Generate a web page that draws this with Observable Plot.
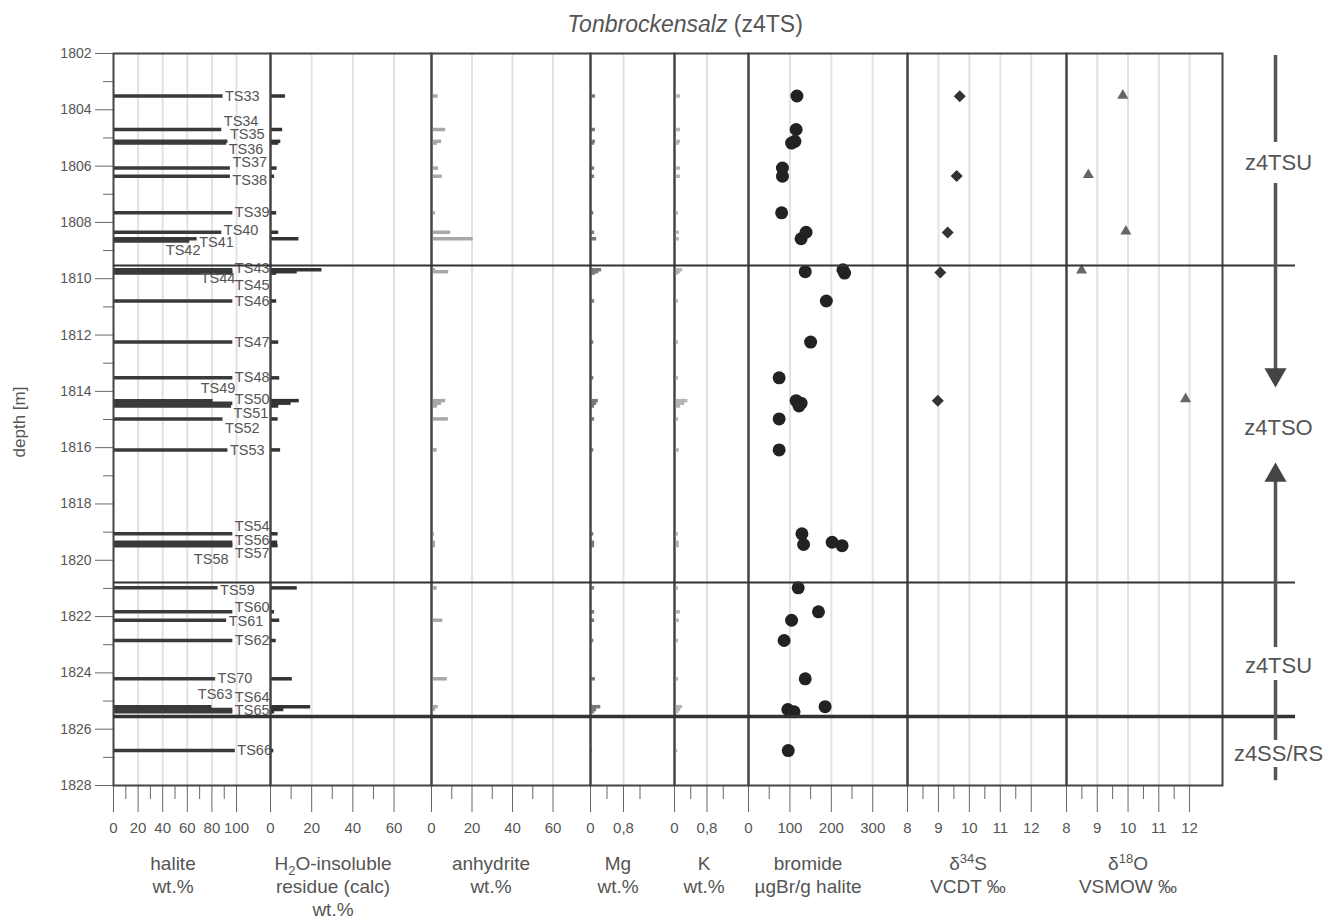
<!DOCTYPE html>
<html>
<head>
<meta charset="utf-8">
<script src="https://cdn.jsdelivr.net/npm/d3@7"></script>
<script src="https://cdn.jsdelivr.net/npm/@observablehq/plot@0.6"></script>
<style>
  body { margin: 0; background: #fff; }
  #wrap { position: relative; width: 1328px; height: 923px; overflow: hidden;
          font-family: "Liberation Sans", Arial, Helvetica, sans-serif; color: #555; }
  #wrap svg { position: absolute; left: 0; top: 0; overflow: visible; }
  .lab { position: absolute; top: 852px; transform: translateX(-50%); text-align: center;
         white-space: nowrap; font-size: 19px; line-height: 23px; color: #555; }
  .lab sub, .lab sup { font-size: 13px; line-height: 0; }
  #title { position: absolute; top: 11px; left: 685px; transform: translateX(-50%);
           font-size: 23px; color: #555; white-space: nowrap; }
  #ylab { position: absolute; left: 20px; top: 422px; transform: translate(-50%, -50%) rotate(-90deg);
          font-size: 17px; color: #555; white-space: nowrap; }
</style>
</head>
<body>
<div id="wrap">
  <div id="title"><i>Tonbrockensalz</i> (z4TS)</div>
  <div id="ylab">depth [m]</div>
</div>
<script>
// ---------- data ----------
const labels    = ["TS33","TS34","TS35","TS36","TS37","TS38","TS39","TS40","TS41","TS42","TS43","TS44","TS45","TS46","TS47","TS48","TS49","TS50","TS51","TS52","TS53","TS54","TS56","TS57","TS58","TS59","TS60","TS61","TS62","TS70","TS63","TS64","TS65","TS66"];
const depth     = [1803.51,1804.70,1805.12,1805.18,1806.07,1806.36,1807.66,1808.35,1808.58,1808.66,1809.68,1809.75,1809.80,1810.79,1812.25,1813.52,1814.33,1814.42,1814.52,1814.98,1816.08,1819.06,1819.36,1819.48,1819.44,1820.98,1821.83,1822.13,1822.85,1824.21,1825.20,1825.30,1825.38,1826.76];
const halite    = [89,88,93,92,95,95,97,88,68,62,97,97,97,97,97,97,81,97,96,89,93,97,97,97,97,85,97,92,97,83,80,97,97,99];
const residue   = [7.3,5.9,5,4,3.2,2,3,4,13.8,null,25,13,3,3,4,4.5,14,10,4,3.7,4.9,3.7,3.5,3.7,2.5,13,2,4.5,2.8,10.6,19.5,6.5,2,1.6];
const anhydrite = [3.3,7,5,3,3.5,5.3,2,9.5,20.6,null,2,8.5,1,1,1,1,7,5,3,8.3,2.8,1.5,2,2,1,2.8,1,5.6,0.5,7.8,3.3,2,1,0.5];
const mg        = [0.12,0.12,0.12,0.1,0.1,0.1,0.08,0.1,0.15,null,0.27,0.2,0.12,0.1,0.08,0.08,0.19,0.15,0.1,0.1,0.08,0.08,0.1,0.1,0.08,0.1,0.1,0.1,0.08,0.12,0.25,0.15,0.1,0.05];
const kval      = [0.15,0.15,0.15,0.12,0.15,0.15,0.1,0.12,0.12,null,0.2,0.15,0.1,0.1,0.1,0.1,0.33,0.25,0.15,0.1,0.12,0.1,0.12,0.12,0.1,0.1,0.15,0.12,0.1,0.1,0.2,0.15,0.1,0.08];
const bromide   = [117,115,112,104,82,82,80,139,127,null,228,137,232,188,150,74,115,127,122,74,74,129,202,226,133,120,169,104,86,137,185,95,110,96];

// where each sample label sits (depth) and, for labels set to the left, the halite value where the text ends
const labelDepth = [1803.53,1804.40,1804.88,1805.40,1805.88,1806.52,1807.66,1808.28,1808.72,1808.98,1809.64,1809.98,1810.24,1810.79,1812.25,1813.52,1813.90,1814.28,1814.78,1815.30,1816.08,1818.80,1819.28,1819.76,1819.98,1821.08,1821.66,1822.16,1822.85,1824.21,1824.78,1824.86,1825.34,1826.76];
const labelEnd   = [null,null,null,null,null,null,null,null,null,70.7,null,99,null,null,null,null,99,null,null,null,null,null,null,null,93.5,null,null,null,null,null,96.7,null,null,null];

const isoDepth = [1803.52, 1806.35, 1808.36, 1809.78, 1814.33];
const d34S     = [9.69, 9.59, 9.30, 9.06, 8.98];
const isoDepth18 = [1803.49, 1806.31, 1808.32, 1809.70, 1814.27];
const d18O     = [9.83, 8.71, 9.93, 8.49, 11.87];

const boundaries = [1809.53, 1820.79];
const baseBoundary = [1825.55];

const stratSegments = [[1802.07, 1805.16], [1806.62, 1813.5], [1817.1, 1823.10], [1824.27, 1826.40], [1827.36, 1827.83]];
const stratLabels = ["z4TSU", "z4TSO", "z4TSU", "z4SS/RS"];
const stratLabelDepth = [1805.87, 1815.29, 1823.74, 1826.87];
const arrowTipDown = [1813.86];
const arrowTipUp = [1816.53];

const depthTicks = d3.range(1802, 1829, 2);
const depthMinor = d3.range(1803, 1828, 2);
const haliteTicks = [0,20,40,60,80,100], haliteMinor = [10,30,50,70,90];
const wtTicks = [0,20,40,60], wtMinor = [10,30,50];
const elemTicks = [0,0.8], elemMinor = [0.4,1.2];
const brTicks = [0,100,200,300], brMinor = [50,150,250];
const isoTicks = [8,9,10,11,12], isoMinor = [8.5,9.5,10.5,11.5];

// ---------- tables ----------
const samples = labels.map((label, i) => ({
  label, depth: depth[i], halite: halite[i], residue: residue[i], anhydrite: anhydrite[i],
  mg: mg[i], k: kval[i], bromide: bromide[i], labelDepth: labelDepth[i], labelEnd: labelEnd[i]
}));
const iso34 = isoDepth.map((d, i) => ({depth: d, v: d34S[i]}));
const iso18 = isoDepth18.map((d, i) => ({depth: d, v: d18O[i]}));
const segs = stratSegments.map(([a, b]) => ({a, b}));
const strat = stratLabels.map((t, i) => ({t, depth: stratLabelDepth[i]}));

// ---------- drawing ----------
const W = 1328, H = 923, TOP = 53, BOTTOM = 785;
const FONT = '"Liberation Sans", Arial, Helvetica, sans-serif';
const INK = "#444", TXT = "#555", GRID = "#e2e2e2";
const plain = d => String(d);
const commaFmt = d => String(d).replace(".", ",");

function panel(x0, x1, xopts, marks) {
  return Plot.plot({
    width: W, height: H,
    marginLeft: x0, marginRight: W - x1, marginTop: TOP, marginBottom: H - BOTTOM,
    style: {background: "transparent", overflow: "visible", fontFamily: FONT, fontSize: "15px", color: TXT},
    x: xopts,
    y: {domain: [1802, 1828], reverse: true},
    marks
  });
}
function xAxes(major, minor, fmt = plain) {
  return [
    Plot.axisX({ticks: major, tickSize: 27, tickPadding: 10, label: null, stroke: "#666", fill: TXT,
                fontSize: 15, tickFormat: fmt}),
    Plot.axisX({ticks: minor, tickSize: 14, label: null, stroke: "#666", tickFormat: () => ""})
  ];
}
function grid(ticks) {
  return Plot.gridX({ticks, stroke: GRID, strokeOpacity: 1, strokeWidth: 2});
}
function bars(key, color) {
  return Plot.ruleY(samples.filter(d => d[key] != null), {y: "depth", x1: 0, x2: key, stroke: color, strokeWidth: 3.5});
}
const noY = Plot.axisY({ticks: [], label: null, tickSize: 0});
const frame = Plot.frame({stroke: INK, strokeWidth: 2});

const plots = [];

// halite (with depth axis)
plots.push(panel(113, 270, {domain: [0, 127.6]}, [
  grid([20,40,60,80,100]),
  Plot.axisY({ticks: depthTicks, tickSize: 18, tickPadding: 4, label: null, stroke: "#666", fill: TXT,
              fontSize: 14, tickFormat: plain}),
  Plot.axisY({ticks: depthMinor, tickSize: 10, label: null, stroke: "#666", tickFormat: () => ""}),
  ...xAxes(haliteTicks, haliteMinor),
  bars("halite", "#3a3a3a"),
  frame,
  Plot.text(samples.filter(d => d.labelEnd == null), {x: "halite", y: "labelDepth", text: "label",
    textAnchor: "start", dx: 2, fill: TXT, fontSize: 14.5}),
  Plot.text(samples.filter(d => d.labelEnd != null), {x: "labelEnd", y: "labelDepth", text: "label",
    textAnchor: "end", fill: TXT, fontSize: 14.5})
]));
// residue
plots.push(panel(270, 431, {domain: [0, 78.2]}, [grid([20,40,60]), noY, ...xAxes(wtTicks, wtMinor), bars("residue", "#333"), frame]));
// anhydrite
plots.push(panel(431, 590, {domain: [0, 78.5]}, [grid([20,40,60]), noY, ...xAxes(wtTicks, wtMinor), bars("anhydrite", "#a8a8a8"), frame]));
// Mg
plots.push(panel(590, 674, {domain: [0, 2.036]}, [grid([0.8]), noY, ...xAxes(elemTicks, elemMinor, commaFmt), bars("mg", "#7a7a7a"), frame]));
// K
plots.push(panel(674, 748, {domain: [0, 1.82]}, [grid([0.8]), noY, ...xAxes(elemTicks, elemMinor, commaFmt), bars("k", "#b5b5b5"), frame]));
// bromide
plots.push(panel(748, 907, {domain: [0, 384]}, [grid([100,200,300]), noY, ...xAxes(brTicks, brMinor), frame,
  Plot.dot(samples.filter(d => d.bromide != null), {x: "bromide", y: "depth", r: 6.5, fill: "#222"})]));
// d34S
plots.push(panel(907, 1066, {domain: [8, 13.14]}, [grid([9,10,11,12]), noY, ...xAxes(isoTicks, isoMinor), frame,
  Plot.dot(iso34, {x: "v", y: "depth", symbol: "diamond2", r: 5.4, fill: "#333"})]));
// d18O
plots.push(panel(1066, 1222, {domain: [8, 13.07]}, [grid([9,10,11,12]), noY, ...xAxes(isoTicks, isoMinor), frame,
  Plot.dot(iso18, {x: "v", y: "depth", symbol: "triangle", r: 4.1, fill: "#666"})]));
// unit boundaries
plots.push(panel(113, 1295, undefined, [noY,
  Plot.ruleY(boundaries, {stroke: "#333", strokeWidth: 2}),
  Plot.ruleY(baseBoundary, {stroke: "#333", strokeWidth: 3.5})]));
// stratigraphic column on the right (x: 0..1 across the strip, column at its middle)
plots.push(panel(1222, 1328, {domain: [0, 1], axis: null}, [noY,
  Plot.ruleX(segs, {x: () => 0.5, y1: "a", y2: "b", stroke: "#555", strokeWidth: 3.5}),
  Plot.dot(arrowTipDown, {x: () => 0.5, y: d => d, symbol: "triangle", r: 8.2, rotate: 180, dy: -12.7, fill: "#444"}),
  Plot.dot(arrowTipUp, {x: () => 0.5, y: d => d, symbol: "triangle", r: 8.2, dy: 12.7, fill: "#444"}),
  Plot.text(strat, {x: () => 0.5, y: "depth", text: "t", fill: TXT, fontSize: 22, dx: 3})
]));

const wrap = document.getElementById("wrap");
for (const p of plots) wrap.appendChild(p);

// axis titles below the panels
const titles = [
  [173, "halite<br>wt.%"],
  [333, "H<sub>2</sub>O-insoluble<br>residue (calc)<br>wt.%"],
  [491, "anhydrite<br>wt.%"],
  [618, "Mg<br>wt.%"],
  [704, "K<br>wt.%"],
  [808, "bromide<br>µgBr/g halite"],
  [968, "δ<sup>34</sup>S<br>VCDT ‰"],
  [1128, "δ<sup>18</sup>O<br>VSMOW ‰"]
];
for (const [x, html] of titles) {
  const d = document.createElement("div");
  d.className = "lab";
  d.style.left = x + "px";
  d.innerHTML = html;
  wrap.appendChild(d);
}
</script>
</body>
</html>
